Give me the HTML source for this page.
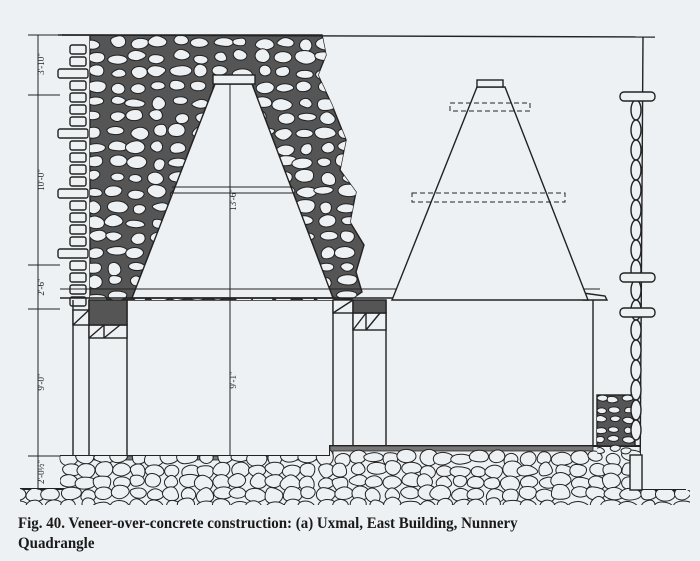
<!DOCTYPE html>
<html><head><meta charset="utf-8"><style>
html,body{margin:0;padding:0;background:#eef1f4;}
svg{display:block}
.cap{position:absolute;left:18px;top:514px;font:bold 15.5px "Liberation Serif",serif;color:#1a1a1a;line-height:20px;transform:scaleX(0.965);transform-origin:left top;white-space:nowrap}
</style></head><body>
<div style="position:relative;width:700px;height:561px;overflow:hidden">
<svg id="s" width="700" height="561" viewBox="0 0 700 561" xmlns="http://www.w3.org/2000/svg">
<defs>
<clipPath id="rub"><path clip-rule="evenodd" d="M62,35 L322,35 L326,55 L318,75 L332,105 L346,140 L340,170 L356,192 L350,222 L364,245 L356,272 L362,292 L350,300 L90,300 L90,35 Z M215,84 L252,84 L333,298 L132,298 Z"/></clipPath>
<clipPath id="fnd"><path d="M60,456 L330,456 L330,446 L640,446 L640,490 L690,490 L690,505 L20,505 L20,489 L60,489 Z"/></clipPath>
<clipPath id="rw"><path d="M597,395 L635,395 L635,456 L597,456 Z"/></clipPath>
</defs>
<g fill="none" stroke="#222" stroke-width="1.4">
<path d="M62,35 L322,35 L326,55 L318,75 L332,105 L346,140 L340,170 L356,192 L350,222 L364,245 L356,272 L362,292 L350,300 L90,300 L90,35 Z M215,84 L252,84 L333,298 L132,298 Z" fill="#555" fill-rule="evenodd"/>
<g id="stones1" clip-path="url(#rub)"></g>
<path d="M215,84 L252,84 L333,298 L132,298 Z" fill="#eef1f4"/>
<rect x="213" y="75" width="42" height="9" fill="#eef1f4"/>
<g id="fac" fill="#eef1f4"></g>
<line x1="58" y1="35" x2="655" y2="37"/>
<line x1="230" y1="84" x2="230" y2="456" stroke-width="1"/>
<line x1="172" y1="187" x2="292" y2="187" stroke-width="1"/>
<line x1="170" y1="193" x2="294" y2="193" stroke-width="1"/>
<line x1="60" y1="289" x2="600" y2="289" stroke-width="1"/>
<line x1="60" y1="298" x2="600" y2="298"/>
<path d="M583,293 L605,296 L607,300 L583,300 Z" fill="#eef1f4"/>
<path d="M477,87 L505,87 L588,300 L392,300 Z" fill="#eef1f4"/>
<rect x="477" y="80" width="26" height="7" fill="#eef1f4"/>
<rect x="450" y="103" width="80" height="8" stroke-dasharray="5,3" stroke-width="1"/>
<rect x="412" y="193" width="153" height="9" stroke-dasharray="5,3" stroke-width="1"/>
<line x1="73" y1="300" x2="73" y2="456"/>
<line x1="89" y1="300" x2="89" y2="456"/>
<line x1="127" y1="300" x2="127" y2="456"/>
<rect x="73" y="310" width="16" height="15" fill="#eef1f4"/><line x1="73" y1="325" x2="89" y2="310"/>
<rect x="89" y="325" width="38" height="13" fill="#eef1f4"/><line x1="89" y1="338" x2="104" y2="325"/><line x1="104" y1="338" x2="104" y2="325"/><line x1="104" y1="338" x2="120" y2="325"/>
<rect x="89" y="300" width="38" height="25" fill="#555"/>
<line x1="333" y1="300" x2="333" y2="446"/>
<line x1="353" y1="300" x2="353" y2="446"/>
<line x1="386" y1="300" x2="386" y2="446"/>
<rect x="333" y="300" width="20" height="13" fill="#eef1f4"/><line x1="333" y1="313" x2="353" y2="300"/>
<rect x="353" y="313" width="33" height="17" fill="#eef1f4"/><line x1="353" y1="330" x2="366" y2="313"/><line x1="366" y1="330" x2="366" y2="313"/><line x1="366" y1="330" x2="380" y2="313"/>
<rect x="353" y="300" width="33" height="13" fill="#555"/>
<line x1="593" y1="300" x2="593" y2="446"/>
<line x1="643" y1="37" x2="640" y2="490"/>
<path d="M60,456 L330,456 L330,446 L640,446" stroke-width="2"/>
<path d="M60,456 L330,456 L330,446 L593,446 L593,451 L333,451 L333,460 L60,460 Z" fill="#777" stroke-width="0.8"/>
<line x1="20" y1="489" x2="70" y2="489" stroke-width="2"/>
<line x1="630" y1="490" x2="686" y2="490" stroke-width="2"/>
<g id="stones2" clip-path="url(#fnd)"></g>
<rect x="597" y="395" width="38" height="51" fill="#555"/>
<g id="stones3" clip-path="url(#rw)"></g>
<g id="rwall" fill="#eef1f4"></g>
<line x1="38" y1="35" x2="38" y2="490" stroke-width="1"/>
<g stroke-width="1"><line x1="28" y1="35" x2="60" y2="35"/><line x1="28" y1="95" x2="60" y2="95"/><line x1="28" y1="265" x2="60" y2="265"/><line x1="28" y1="309" x2="60" y2="309"/><line x1="28" y1="456" x2="60" y2="456"/></g>
</g>
<g font-family="Liberation Serif,serif" font-size="9" fill="#222">
<text transform="translate(44,64) rotate(-90)" text-anchor="middle">3'-10"</text>
<text transform="translate(44,180) rotate(-90)" text-anchor="middle">10'-0"</text>
<text transform="translate(44,287) rotate(-90)" text-anchor="middle">2'-6"</text>
<text transform="translate(44,382) rotate(-90)" text-anchor="middle">9'-0"</text>
<text transform="translate(44,472) rotate(-90)" text-anchor="middle">2'-0½"</text>
<text transform="translate(236,200) rotate(-90)" text-anchor="middle">13'-6"</text>
<text transform="translate(236,380) rotate(-90)" text-anchor="middle">9'-1"</text>
</g>
</svg>
<div class="cap">Fig. 40. Veneer-over-concrete construction: (a) Uxmal, East Building, Nunnery<br>Quadrangle</div>
</div>
<script>
var seed=7;function r(){seed=(seed*16807)%2147483647;return seed/2147483647;}
var NS="http://www.w3.org/2000/svg";
function el(p,t,a){var e=document.createElementNS(NS,t);for(var k in a)e.setAttribute(k,a[k]);p.appendChild(e);return e;}
function stone(g,cx,cy,rx,ry){var pts=[],n=7,rot=r()*6.28;
 for(var i=0;i<n;i++){var a=rot+i*6.283/n,k=0.8+r()*0.3;pts.push([cx+Math.cos(a)*rx*k,cy+Math.sin(a)*ry*k]);}
 var d="M"+((pts[0][0]+pts[n-1][0])/2).toFixed(1)+","+((pts[0][1]+pts[n-1][1])/2).toFixed(1);
 for(var i=0;i<n;i++){var p=pts[i],q=pts[(i+1)%n];d+=" Q"+p[0].toFixed(1)+","+p[1].toFixed(1)+" "+((p[0]+q[0])/2).toFixed(1)+","+((p[1]+q[1])/2).toFixed(1);}
 el(g,"path",{d:d+"Z",fill:"#eef1f4",stroke:"#222","stroke-width":"1"});}
(function(){var g=document.getElementById("stones1");
 for(var y=40;y<300;y+=15){for(var x=92;x<365;x+=21){stone(g,x+r()*6,y+r()*5,7+r()*5,4.5+r()*3);}}})();
(function(){var g=document.getElementById("stones2");
 for(var y=450;y<512;y+=12){for(var x=16;x<692;x+=17){stone(g,x+r()*5,y+r()*4+6,8+r()*4,6+r()*3);}}})();
(function(){var g=document.getElementById("stones3");
 for(var y=398;y<456;y+=10){for(var x=599;x<636;x+=13){stone(g,x+r()*4,y+r()*3,5+r()*2,3.5);}}})();
(function(){var g=document.getElementById("fac");
 for(var y=45;y<300;y+=12){var w=y%60<12?30:16;el(g,"rect",{x:y%60<12?58:70,y:y,width:w,height:9,rx:2});}
 var g2=document.getElementById("rwall");
 for(var y=100;y<440;y+=20){el(g2,"ellipse",{cx:636,cy:y+10,rx:5,ry:10});}
 [[92],[273],[308]].forEach(function(a){el(g2,"rect",{x:620,y:a[0],width:35,height:9,rx:4});});
 el(g2,"rect",{x:630,y:455,width:12,height:35});
})();
</script>
</body></html>
